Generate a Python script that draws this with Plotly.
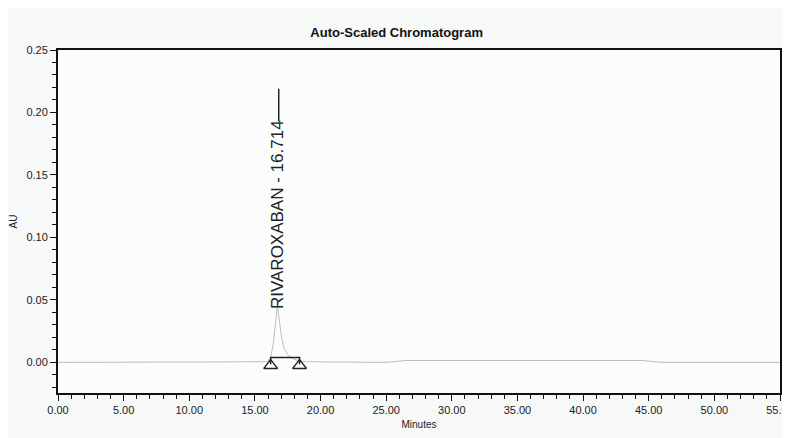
import plotly.graph_objects as go

# Chromatogram trace (minutes, AU)
time_min = [0.0, 5.0, 10.0, 15.0, 15.8, 16.0, 16.2, 16.4, 16.55, 16.714, 16.85, 17.0,
            17.2, 17.5, 17.9, 18.4, 19.0, 22.0, 25.0, 26.5, 30.0, 35.0, 40.0, 44.5,
            46.0, 50.0, 55.0]
absorb_au = [0.0, 0.0, 0.0, 0.0, 0.0005, 0.001, 0.004, 0.015, 0.030, 0.045, 0.035, 0.022,
             0.012, 0.006, 0.003, 0.001, 0.0005, 0.0, 0.0, 0.0015, 0.0015, 0.0015, 0.0015, 0.0015,
             0.0, 0.0, 0.0]

peak_name = "RIVAROXABAN"
peak_rt = 16.714
peak_start = 16.2
peak_end = 18.4
integ_level = 0.004
marker_level = -0.0025

x_ticks = [0, 5, 10, 15, 20, 25, 30, 35, 40, 45, 50, 55]
x_tick_labels = ["0.00", "5.00", "10.00", "15.00", "20.00", "25.00", "30.00",
                 "35.00", "40.00", "45.00", "50.00", "55.00"]
y_ticks = [0.0, 0.05, 0.10, 0.15, 0.20, 0.25]
y_tick_labels = ["0.00", "0.05", "0.10", "0.15", "0.20", "0.25"]

FONT = "Liberation Sans, Arial"
tick_font = dict(family=FONT, size=11, color="#222")

fig = go.Figure()
fig.add_trace(go.Scatter(x=time_min, y=absorb_au, mode="lines",
                         line=dict(color="#bdbdbd", width=1), showlegend=False,
                         hoverinfo="skip"))
# integration baseline bar
fig.add_trace(go.Scatter(x=[peak_start, peak_start, peak_end, peak_end],
                         y=[marker_level + 0.001, integ_level, integ_level, marker_level + 0.001],
                         mode="lines", line=dict(color="#222", width=1.5),
                         showlegend=False, hoverinfo="skip"))
fig.add_trace(go.Scatter(x=[peak_start, peak_end], y=[marker_level, marker_level],
                         mode="markers",
                         marker=dict(symbol="triangle-up-open", size=12, color="#222",
                                     line=dict(color="#222", width=1.3)),
                         showlegend=False, hoverinfo="skip"))

label_bottom = 0.041
fig.add_annotation(x=peak_rt, y=label_bottom, xref="x", yref="y",
                   text=f"{peak_name} - {peak_rt:.3f}", textangle=-90,
                   showarrow=False, xanchor="center", yanchor="bottom",
                   font=dict(family=FONT, size=17, color="#222"))
fig.add_shape(type="line", xref="x", yref="y", x0=peak_rt + 0.1, x1=peak_rt + 0.1,
              y0=0.193, y1=0.219, line=dict(color="#222", width=1.5))

fig.update_layout(
    width=782, height=430,
    margin=dict(l=50, r=10, t=42, b=45),
    paper_bgcolor="#f7f8f8", plot_bgcolor="#fbfcfc",
    title=dict(text="<b>Auto-Scaled Chromatogram</b>", x=0.497, xanchor="center",
               y=0.942, yanchor="middle",
               font=dict(family=FONT, size=13, color="#111")),
    xaxis=dict(range=[0, 55], tickvals=x_ticks, ticktext=x_tick_labels,
               automargin=False, ticklabeloverflow="allow",
               showgrid=False, zeroline=False, showline=True, linecolor="#111",
               linewidth=2, mirror=True, ticks="outside", ticklen=6,
               tickcolor="#111", tickfont=tick_font,
               minor=dict(dtick=1, ticks="outside", ticklen=4, tickcolor="#111", showgrid=False),
               title=dict(text="Minutes", standoff=6,
                          font=dict(family=FONT, size=10, color="#222"))),
    yaxis=dict(range=[-0.0245, 0.25], tickvals=y_ticks, ticktext=y_tick_labels,
               automargin=False,
               showgrid=False, zeroline=False, showline=True, linecolor="#111",
               linewidth=2, mirror=True, ticks="outside", ticklen=6,
               tickcolor="#111", tickfont=tick_font,
               minor=dict(dtick=0.01, tick0=0, ticks="outside", ticklen=4, tickcolor="#111", showgrid=False),
               title=dict(text="AU", standoff=10,
                          font=dict(family=FONT, size=10, color="#222"))),
)

fig.write_html("out.html")
